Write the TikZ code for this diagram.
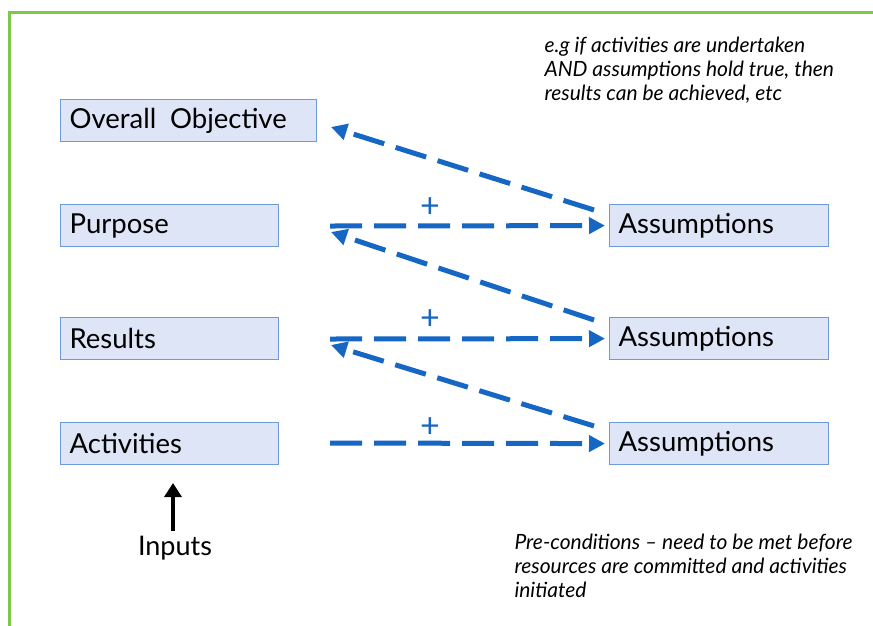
\documentclass[tikz,border=0pt]{standalone}
\usepackage{fontspec}
\setmainfont{Lato}
\usetikzlibrary{arrows.meta}
\definecolor{frame}{RGB}{122,200,76}
\definecolor{flow}{RGB}{22,102,196}
\definecolor{boxfill}{RGB}{221,229,246}
\definecolor{boxline}{RGB}{110,155,215}
\tikzset{
  lfbox/.style={draw=boxline, fill=boxfill, line width=1.2pt, anchor=north west,
    minimum height=42pt, inner xsep=9pt, inner ysep=0pt, align=left,
    font=\fontsize{27.5}{30}\selectfont},
  flowarrow/.style={draw=flow, line width=5pt, dash pattern=on 32pt off 12pt,
    -{Triangle[length=16pt,width=16pt]}},
  plus/.style={text=flow, font=\fontsize{34}{34}\selectfont},
  note/.style={anchor=north west, align=left, font=\itshape\fontsize{21}{24}\selectfont}
}
\begin{document}
\begin{tikzpicture}[x=1pt,y=-1pt]
\useasboundingbox (0,0) rectangle (873,625);
% outer frame, running off the page on the right and bottom
\draw[frame, line width=3pt] (9,640) -- (9,12) -- (890,12);

% logframe levels
\node[lfbox, text width=238pt] (obj) at (60,99) {Overall\, Objective};
\node[lfbox, text width=200pt] (pur) at (60,204) {Purpose};
\node[lfbox, text width=200pt] (res) at (60,317) {Results};
\node[lfbox, text width=200pt] (act) at (60,422) {Activities};

% assumptions column
\node[lfbox, text width=201pt] (as1) at (609,204) {Assumptions};
\node[lfbox, text width=201pt] (as2) at (609,317) {Assumptions};
\node[lfbox, text width=201pt] (as3) at (609,422) {Assumptions};

% start points of the horizontal links and targets of the diagonal ones
\coordinate (h1) at (330,226);
\coordinate (h2) at (330,339);
\coordinate (h3) at (330,443);
\coordinate (d0) at (331,127);
\coordinate (d1) at (331,232);
\coordinate (d2) at (331,345);
\coordinate (s1) at (594,210);
\coordinate (s2) at (594,320);
\coordinate (s3) at (594,426);

% level + assumptions
\draw[flowarrow, shorten >=4pt] (h1) -- (as1.west);
\draw[flowarrow, shorten >=4pt] (h2) -- (as2.west);
\draw[flowarrow, shorten >=4pt] (h3) -- (as3.west);
\node[plus] (p1) at (430,208) {+};
\node[plus] (p2) at (430,320) {+};
\node[plus] (p3) at (430,428) {+};

% assumptions lead up to the next level
\draw[flowarrow] (s1) -- (d0);
\draw[flowarrow] (s2) -- (d1);
\draw[flowarrow] (s3) -- (d2);

% inputs
\node[font=\fontsize{27}{30}\selectfont] (inp) at (175,548) {Inputs};
\coordinate (inptip) at (173,483);
\draw[line width=3.3pt, -{Triangle[length=14pt,width=17pt]}] (inp.north -| inptip) ++(0,-1) -- (inptip);

% notes
\node[note] (n1) at (541,33) {e.g if activities are undertaken\\AND assumptions hold true, then\\results can be achieved, etc};
\node[note] (n2) at (511,530) {Pre-conditions -- need to be met before\\resources are committed and activities\\initiated};
\end{tikzpicture}
\end{document}
